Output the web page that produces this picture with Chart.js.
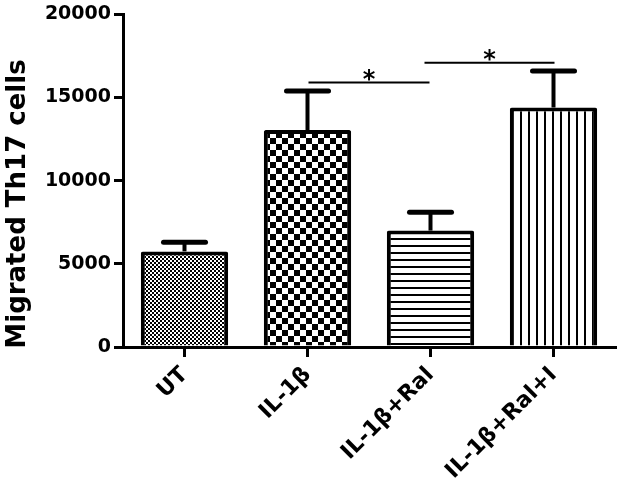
<!DOCTYPE html>
<html>
<head>
<meta charset="utf-8">
<script src="https://cdn.jsdelivr.net/npm/chart.js@4"></script>
<style>
    html, body { margin: 0; padding: 0; background: #fff; }
    #wrap { width: 633px; height: 485px; }
</style>
</head>
<body>
<div id="wrap"><canvas id="myChart"></canvas></div>
<script>
var categories = ['UT', 'IL-1\u03b2', 'IL-1\u03b2+Ral', 'IL-1\u03b2+Ral+I'];
var means = [5750, 13050, 7000, 14400];
var errors = [550, 2350, 1100, 2200];
var yTicks = [0, 5000, 10000, 15000, 20000];
var yTitle = 'Migrated Th17 cells';
// significance brackets: from category, to category, height, label
var sigFrom = [1, 2];
var sigTo = [2, 3];
var sigLevel = [15900, 17100];
var sigText = ['*', '*'];

var FONT = '"DejaVu Sans", sans-serif';

function makePattern(w, h, draw) {
    var c = document.createElement('canvas');
    c.width = w; c.height = h;
    var g = c.getContext('2d');
    g.fillStyle = '#fff';
    g.fillRect(0, 0, w, h);
    g.fillStyle = '#000';
    draw(g);
    return document.getElementById('myChart').getContext('2d').createPattern(c, 'repeat');
}

var patterns = [
    makePattern(4, 4, function (g) { g.fillRect(0, 0, 2, 2); g.fillRect(2, 2, 2, 2); }),
    makePattern(12, 12, function (g) { g.fillRect(0, 0, 6, 6); g.fillRect(6, 6, 6, 6); }),
    makePattern(7, 7, function (g) { g.fillRect(0, 0, 7, 2); }),
    makePattern(8, 8, function (g) { g.fillRect(0, 0, 2, 8); })
];

var errorBars = {
    id: 'errorBars',
    afterDatasetsDraw: function (chart) {
        var ctx = chart.ctx;
        var y = chart.scales.y;
        var meta = chart.getDatasetMeta(0);
        ctx.save();
        ctx.strokeStyle = '#000';
        meta.data.forEach(function (bar, i) {
            var top = y.getPixelForValue(means[i] + errors[i]);
            var base = y.getPixelForValue(means[i]);
            ctx.lineWidth = 4;
            ctx.lineCap = 'butt';
            ctx.beginPath();
            ctx.moveTo(bar.x, base);
            ctx.lineTo(bar.x, top);
            ctx.stroke();
            ctx.lineWidth = 5;
            ctx.lineCap = 'round';
            ctx.beginPath();
            ctx.moveTo(bar.x - 21, top);
            ctx.lineTo(bar.x + 21, top);
            ctx.stroke();
        });
        // significance lines
        var x = chart.scales.x;
        ctx.lineWidth = 2;
        ctx.lineCap = 'butt';
        ctx.fillStyle = '#000';
        ctx.font = 'bold 24px ' + FONT;
        ctx.textAlign = 'center';
        ctx.textBaseline = 'middle';
        for (var k = 0; k < sigFrom.length; k++) {
            var x1 = x.getPixelForValue(sigFrom[k]) + (k === 0 ? 1 : -6);
            var x2 = x.getPixelForValue(sigTo[k]) + (k === 0 ? -1 : 1);
            var py = y.getPixelForValue(sigLevel[k]);
            ctx.beginPath();
            ctx.moveTo(x1, py);
            ctx.lineTo(x2, py);
            ctx.stroke();
            ctx.fillText(sigText[k], (x1 + x2) / 2, py - 2);
        }
        // y axis title, placed like the original (a bit below centre)
        ctx.font = 'bold 26px ' + FONT;
        ctx.translate(18, 204);
        ctx.rotate(-Math.PI / 2);
        ctx.fillText(yTitle, 0, 0);
        ctx.restore();
    }
};

const ctx = document.getElementById('myChart');
const myChart = new Chart(ctx, {
    type: 'bar',
    data: {
        labels: categories,
        datasets: [{
            data: means,
            backgroundColor: patterns,
            borderColor: '#000',
            borderWidth: 4,
            borderRadius: 2,
            barPercentage: 0.71,
            categoryPercentage: 1
        }]
    },
    options: {
        responsive: true,
        maintainAspectRatio: false,
        animation: false,
        layout: { padding: { top: 5, right: 18, left: 0, bottom: 0 } },
        plugins: {
            legend: { display: false },
            tooltip: { enabled: false }
        },
        scales: {
            x: {
                grid: { drawOnChartArea: false, offset: false, tickLength: 10, lineWidth: 3, color: '#000' },
                border: { color: '#000', width: 3 },
                ticks: {
                    color: '#000',
                    font: { family: FONT, weight: 'bold', size: 22 },
                    minRotation: 45,
                    maxRotation: 45,
                    padding: 5
                },
                afterFit: function (scale) { scale.height = 138; }
            },
            y: {
                min: 0,
                max: 20000,
                afterBuildTicks: function (scale) {
                    scale.ticks = yTicks.map(function (v) { return { value: v }; });
                },
                grid: { drawOnChartArea: false, tickLength: 9, lineWidth: 3, color: '#000' },
                border: { color: '#000', width: 3 },
                ticks: {
                    color: '#000',
                    font: { family: FONT, weight: 'bold', size: 19 },
                    padding: 3,
                    callback: function (v) { return String(v); }
                },
                afterFit: function (scale) { scale.width = 123; }
            }
        }
    },
    plugins: [errorBars]
});
</script>
</body>
</html>
